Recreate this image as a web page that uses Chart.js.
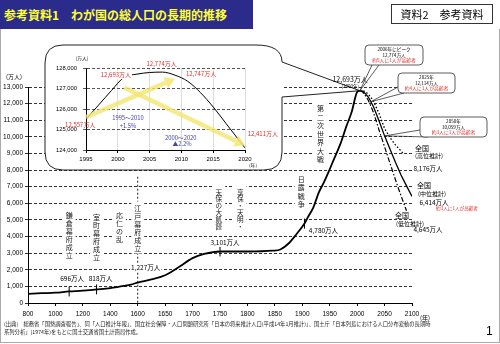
<!DOCTYPE html>
<html>
<head>
<meta charset="utf-8">
<script src="https://cdn.jsdelivr.net/npm/chart.js@4"></script>
<style>
body { margin: 0; background: #fff; }
#wrap { position: relative; width: 500px; height: 344px; overflow: hidden; font-family: "Noto Sans CJK JP", sans-serif; }
#main, #inset { position: absolute; }
#main { left: 0; top: 0; }
#inset { left: 45px; top: 45px; }
#frame { position: absolute; left: 0; top: 29px; width: 498px; height: 313px; border: 1px solid #aaa; border-top: none; }
#head { position: absolute; left: 0; top: 0; width: 253px; height: 29px; box-sizing: border-box; padding-left: 4px;
  background: #2b2b8c; color: #ffff33; font-weight: bold; font-size: 12px; line-height: 29px; white-space: nowrap; }
#tag { position: absolute; left: 391px; top: 4px; width: 100px; height: 18px; border: 1px solid #333;
  font-size: 11px; line-height: 18px; text-align: center; }
#foot { position: absolute; left: 4px; top: 320px; font-size: 5.3px; line-height: 8px; color: #222; white-space: nowrap; }
#page { position: absolute; left: 486px; top: 324px; font-size: 12px; font-family: "Liberation Sans", Arial, sans-serif; }
</style>
</head>
<body>
<div id="wrap">
  <div id="frame"></div>
  <canvas id="main" width="500" height="344"></canvas>
  <canvas id="inset" width="237" height="125"></canvas>
  <div id="head">参考資料1　わが国の総人口の長期的推移</div>
  <div id="tag">資料2　参考資料</div>
  <div id="foot">(出典)　総務省「国勢調査報告」、同「人口推計年報」、国立社会保障・人口問題研究所「日本の将来推計人口(平成14年1月推計)」、国土庁「日本列島における人口分布変動の長期時<br>系列分析」(1974年)をもとに国土交通省国土計画局作成。</div>
  <div id="page">1</div>
</div>
<script>
// x axis ticks are evenly spaced, but the year step changes at 1600
var tickYears = [800, 1000, 1200, 1400, 1600, 1650, 1700, 1750, 1800, 1850, 1900, 1950, 2000, 2050, 2100];

// total population (万人)
var histYears = [800, 900, 1000, 1100, 1200, 1300, 1400, 1450, 1500, 1550, 1600, 1625, 1650, 1675, 1700, 1721, 1750, 1800, 1846, 1860, 1875, 1890, 1904, 1910, 1920, 1930, 1940, 1950, 1960, 1970, 1980, 1990, 2000, 2005];
var histPop = [551, 590, 620, 696, 740, 818, 900, 960, 1030, 1110, 1227, 1420, 1670, 2160, 2700, 2950, 3101, 3100, 3150, 3220, 3580, 4170, 4780, 5150, 5740, 6640, 7300, 8050, 8830, 9620, 10600, 11500, 12693, 12777];

// projections (高位 / 中位 / 低位); the drawn lines stop short of 2100
var highYears = [2005, 2010, 2015, 2020, 2025, 2030, 2040, 2050, 2060, 2070, 2080, 2085];
var highPop = [12777, 12790, 12720, 12580, 12380, 12130, 11400, 10500, 9950, 9500, 9150, 8950];
var midYears = [2005, 2010, 2015, 2020, 2025, 2030, 2040, 2050, 2060, 2070, 2080, 2090, 2100];
var midPop = [12777, 12747, 12600, 12411, 12114, 11800, 10950, 10059, 9250, 8450, 7700, 7050, 6414];
var lowYears = [2005, 2010, 2015, 2020, 2025, 2030, 2040, 2050, 2060, 2070, 2080, 2090];
var lowPop = [12777, 12700, 12480, 12220, 11850, 11450, 10400, 9400, 8400, 7400, 6450, 5550];
var endValues = [8176, 6414, 4645];

// marked points on the curve
var markYears = [1100, 1300, 1750, 1904];
var markPop = [696, 818, 3101, 4780];

// inset: 1995-2020 (axis in 千人 as printed)
var insetYears = [1995, 1997, 1999, 2001, 2003, 2005, 2007, 2009, 2011, 2013, 2015, 2017, 2019, 2020];
var insetPop = [125500, 126200, 126900, 127550, 127700, 127780, 127800, 127650, 127350, 126800, 126100, 125300, 124500, 124100];
var arrowUp = [[1995, 125600], [2009, 127480]];
var arrowDown = [[2001, 127050], [2020, 124230]];

var jp = '"Noto Sans CJK JP", sans-serif';
var num = '"Liberation Sans", Arial, sans-serif';
var red = '#e2302a';
var blue = '#4646b4';

function yearToPos(y) {
  for (var i = 0; i < tickYears.length - 2; i++) {
    if (y <= tickYears[i + 1]) break;
  }
  return i + (y - tickYears[i]) / (tickYears[i + 1] - tickYears[i]);
}
function toPoints(years, vals) {
  return years.map(function (y, i) { return { x: yearToPos(y), y: vals[i] }; });
}
function P(chart, year, val) {
  return { x: chart.scales.x.getPixelForValue(yearToPos(year)), y: chart.scales.y.getPixelForValue(val) };
}

function text(c, s, x, y, size, color, bg, align) {
  c.font = size + 'px ' + jp;
  c.textAlign = align || 'center';
  c.textBaseline = 'middle';
  if (bg) {
    var w = c.measureText(s).width;
    var x0 = c.textAlign == 'center' ? x - w / 2 : x;
    c.fillStyle = '#fff';
    c.fillRect(x0 - 1, y - size / 2 - 1, w + 2, size + 2);
  }
  c.fillStyle = color || '#000';
  c.fillText(s, x, y);
}

function vtext(c, s, x, yTop, size, step) {
  var chars = Array.from(s);
  c.fillStyle = '#fff';
  c.fillRect(x - size / 2 - 3, yTop - size / 2 - 3, size + 6, step * chars.length + 4);
  chars.forEach(function (ch, i) { text(c, ch, x, yTop + i * step, size, '#222'); });
}

function callout(c, bx, by, w, h, lines, tip, b1, b2) {
  c.save();
  c.strokeStyle = '#333';
  c.lineWidth = 0.8;
  c.beginPath();
  c.moveTo(b1[0], b1[1]); c.lineTo(tip.x, tip.y); c.lineTo(b2[0], b2[1]);
  c.stroke();
  c.beginPath();
  c.roundRect(bx, by, w, h, 4);
  c.fillStyle = '#fff';
  c.fill();
  c.stroke();
  c.restore();
  text(c, lines[0], bx + w / 2, by + 4.5, 4.6, '#000');
  text(c, lines[1], bx + w / 2, by + 10, 4.6, '#000');
  text(c, lines[2], bx + w / 2, by + 15.5, 4.8, red);
}

var annotate = {
  id: 'annotate',
  beforeDatasetsDraw: function (chart) {
    var c = chart.ctx;
    var pk = P(chart, histYears[histYears.length - 1], histPop[histPop.length - 1]);
    var L = 45, T = 45, R = 282, B = 170, r = 18;
    c.save();
    // white body of the bubble
    c.beginPath();
    c.roundRect(L, T, R - L, B - T, r);
    c.fillStyle = '#fff';
    c.fill();
    // outline with the pointer to the peak
    c.beginPath();
    c.moveTo(L + r, T);
    c.lineTo(R - 26, T);
    c.quadraticCurveTo(R, T, R, T + 17);
    c.lineTo(pk.x, pk.y);
    c.lineTo(R, T + 52);
    c.lineTo(R, B - r);
    c.quadraticCurveTo(R, B, R - r, B);
    c.lineTo(L + r, B);
    c.quadraticCurveTo(L, B, L, B - r);
    c.lineTo(L, T + r);
    c.quadraticCurveTo(L, T, L + r, T);
    c.strokeStyle = '#222';
    c.lineWidth = 1;
    c.stroke();

    // 江戸幕府 vertical dashed line
    var e0 = P(chart, 1600, 7600), e1 = P(chart, 1600, 0);
    c.setLineDash([2, 2]);
    c.beginPath(); c.moveTo(e0.x, e0.y); c.lineTo(e1.x, e1.y); c.stroke();
    c.setLineDash([]);
    c.restore();

    // event labels (vertical)
    vtext(c, '鎌倉幕府成立', P(chart, 1100, 0).x, P(chart, 0, 5250).y, 7, 8);
    vtext(c, '室町幕府成立', P(chart, 1300, 0).x, P(chart, 0, 5130).y, 7, 8);
    vtext(c, '応仁の乱', P(chart, 1467, 0).x, P(chart, 0, 5250).y, 7, 8);
    vtext(c, '江戸幕府成立', P(chart, 1600, 0).x, P(chart, 0, 5720).y, 7, 8);
    vtext(c, '享保・天明・', P(chart, 1787, 0).x, P(chart, 0, 6680).y, 6.6, 6.8);
    vtext(c, '天保の大飢饉', P(chart, 1748, 0).x, P(chart, 0, 6680).y, 6.6, 6.8);
    vtext(c, '日露戦争', P(chart, 1898, 0).x, P(chart, 0, 7450).y, 7, 8.5);
    vtext(c, '第二次世界大戦', P(chart, 1933, 0).x, P(chart, 0, 11690).y, 7, 8.5);
  },
  afterDatasetsDraw: function (chart) {
    var c = chart.ctx;
    // ticks on the curve
    c.save();
    c.strokeStyle = '#000';
    c.lineWidth = 1;
    markYears.forEach(function (y, i) {
      var p = P(chart, y, markPop[i]);
      c.beginPath(); c.moveTo(p.x, p.y - 5); c.lineTo(p.x, p.y + 5); c.stroke();
    });
    c.restore();

    var p;
    p = P(chart, 1100, 696); text(c, '696万人', p.x + 3, p.y - 13, 6.5);
    p = P(chart, 1300, 818); text(c, '818万人', p.x + 4, p.y - 11, 6.5);
    p = P(chart, 1600, 1227); text(c, '1,227万人', p.x + 8, p.y - 15, 6.5, '#000', true);
    p = P(chart, 1750, 3101); text(c, '3,101万人', p.x + 5, p.y - 9, 6.5, '#000', true);
    p = P(chart, 1904, 4780); text(c, '4,780万人', p.x + 19, p.y + 7, 6.5, '#000', true);
    p = P(chart, 2000, 12693); text(c, '12,693万人', p.x - 7, p.y - 13, 7); text(c, '(2000年)', p.x - 7, p.y - 6, 4.5);

    // projection end labels (values at 2100)
    p = P(chart, 2100, endValues[0]);
    text(c, '全国', p.x + 10, p.y - 19, 7); text(c, '(高位推計)', p.x + 17, p.y - 11, 6); text(c, '8,176万人', p.x + 16, p.y + 1, 6.5);
    p = P(chart, 2100, endValues[1]);
    text(c, '全国', p.x + 12, p.y - 11, 7); text(c, '(中位推計)', p.x + 20, p.y - 3, 6); text(c, '6,414万人', p.x + 22, p.y + 6, 6.5);
    text(c, '約3人に1人が高齢者', p.x + 45, p.y + 12, 4.6, red);
    p = P(chart, 2100, endValues[2]);
    text(c, '全国', p.x - 10, p.y - 10, 7); text(c, '(低位推計)', p.x - 2, p.y - 2, 6); text(c, '4,645万人', p.x + 16, p.y + 4, 6.5);

    // callouts on the projection
    callout(c, 365, 45, 58, 20, ['2006年にピーク', '12,774万人', '約5人に1人が高齢者'],
      P(chart, 2005, 12777), [372, 65], [379, 65]);
    callout(c, 398, 73, 57, 20, ['2025年', '12,114万人', '約4人に1人が高齢者'],
      P(chart, 2025, 12114), [398, 87], [404, 93]);
    callout(c, 420, 117, 67, 20, ['2050年', '10,059万人', '約3人に1人が高齢者'],
      P(chart, 2050, 10059), [420, 130], [428, 137]);

    // axis captions
    text(c, '(万人)', 14, 77, 6);
    text(c, '(年)', 425, 318, 6);
  }
};

new Chart(document.getElementById('main'), {
  type: 'line',
  data: {
    datasets: [
      { data: toPoints(highYears, highPop), borderColor: '#000', borderWidth: 1.3, borderDash: [1.5, 2], pointRadius: 0 },
      { data: toPoints(lowYears, lowPop), borderColor: '#000', borderWidth: 1.2, borderDash: [5, 2, 1.5, 2], pointRadius: 0 },
      { data: toPoints(midYears, midPop), borderColor: '#000', borderWidth: 1.3, pointRadius: 0 },
      { data: toPoints(histYears, histPop), borderColor: '#000', borderWidth: 1.8, pointRadius: 0, cubicInterpolationMode: 'monotone' }
    ]
  },
  options: {
    responsive: false,
    animation: false,
    devicePixelRatio: 1,
    layout: { padding: { top: 87, right: 88, left: 0, bottom: 0 } },
    plugins: { legend: { display: false }, tooltip: { enabled: false } },
    scales: {
      x: {
        type: 'linear', min: 0, max: 14,
        afterFit: function (s) { s.height = 41; },
        ticks: { stepSize: 1, autoSkip: false, maxRotation: 0, padding: 4, color: '#000',
          font: { family: num, size: 6.5 }, callback: function (v) { return tickYears[v]; } },
        grid: { drawOnChartArea: false, tickLength: 3, tickColor: '#000' },
        border: { color: '#000' }
      },
      y: {
        min: 0, max: 13000,
        afterFit: function (s) { s.width = 28; },
        ticks: { stepSize: 1000, padding: 2, color: '#000', font: { family: num, size: 6.5 },
          callback: function (v) { return v.toLocaleString('en-US'); } },
        grid: { color: '#333', tickLength: 3, tickColor: '#333' },
        border: { color: '#000', dash: [3, 2] }
      }
    }
  },
  plugins: [annotate]
});

var insetNotes = {
  id: 'insetNotes',
  afterDatasetsDraw: function (chart) {
    var c = chart.ctx, xs = chart.scales.x, ys = chart.scales.y;
    function q(y, v) { return { x: xs.getPixelForValue(y), y: ys.getPixelForValue(v) }; }
    function arrow(pts) {
      var a = q(pts[0][0], pts[0][1]), b = q(pts[1][0], pts[1][1]);
      var ang = Math.atan2(b.y - a.y, b.x - a.x), hl = 10, hw = 6;
      var bx = b.x - hl * Math.cos(ang), by = b.y - hl * Math.sin(ang);
      c.save();
      c.strokeStyle = 'rgba(243,230,110,0.8)';
      c.fillStyle = 'rgba(243,230,110,0.85)';
      c.lineWidth = 4.5;
      c.beginPath(); c.moveTo(a.x, a.y); c.lineTo(bx, by); c.stroke();
      c.beginPath();
      c.moveTo(b.x, b.y);
      c.lineTo(bx + hw * Math.sin(ang), by - hw * Math.cos(ang));
      c.lineTo(bx - hw * Math.sin(ang), by + hw * Math.cos(ang));
      c.closePath(); c.fill();
      c.restore();
    }
    arrow(arrowUp);
    arrow(arrowDown);
    var p;
    p = q(1994.1, 125220); text(c, '12,557万人', p.x, p.y, 6, red);
    p = q(1999.7, 127660); text(c, '12,693万人', p.x, p.y, 6, red, true);
    p = q(2006.9, 128195); text(c, '12,774万人', p.x, p.y, 6, red);
    p = q(2013.1, 127710); text(c, '12,747万人', p.x, p.y, 6, red);
    p = q(2022.8, 124780); text(c, '12,411万人', p.x, p.y, 6, red);
    p = q(2001.6, 125560); text(c, '1995〜2010', p.x, p.y, 5.8, blue);
    p = q(2001.6, 125170); text(c, '+1.5%', p.x, p.y, 5.8, blue);
    p = q(2009.9, 124590); text(c, '2000〜2020', p.x, p.y, 5.8, blue);
    p = q(2010.1, 124290); text(c, '▲2.2%', p.x, p.y, 5.8, blue);
    text(c, '(万人)', 37, 13, 4.8);
    text(c, '(年)', 208, 120, 4.8);
  }
};

new Chart(document.getElementById('inset'), {
  type: 'line',
  data: {
    datasets: [{
      data: insetYears.map(function (y, i) { return { x: y, y: insetPop[i] }; }),
      borderColor: '#000', borderWidth: 1, pointRadius: 0, cubicInterpolationMode: 'monotone'
    }]
  },
  options: {
    responsive: false,
    animation: false,
    devicePixelRatio: 1,
    layout: { padding: { top: 23, right: 37, left: 0, bottom: 0 } },
    plugins: { legend: { display: false }, tooltip: { enabled: false } },
    scales: {
      x: {
        type: 'linear', min: 1995, max: 2020,
        afterFit: function (s) { s.height = 20; },
        ticks: { stepSize: 5, padding: 3, maxRotation: 0, color: '#000', font: { family: num, size: 6 },
          callback: function (v) { return String(v); } },
        grid: { color: '#dcdcdc', tickLength: 3, tickColor: '#000' },
        border: { color: '#000' }
      },
      y: {
        min: 124000, max: 128000,
        afterFit: function (s) { s.width = 41; },
        ticks: { stepSize: 1000, padding: 6, color: '#000', font: { family: num, size: 5.8 },
          callback: function (v) { return v.toLocaleString('en-US'); } },
        grid: { color: '#555', tickLength: 3, tickColor: '#555' },
        border: { color: '#000', dash: [3, 2] }
      }
    }
  },
  plugins: [insetNotes]
});
</script>
</body>
</html>
